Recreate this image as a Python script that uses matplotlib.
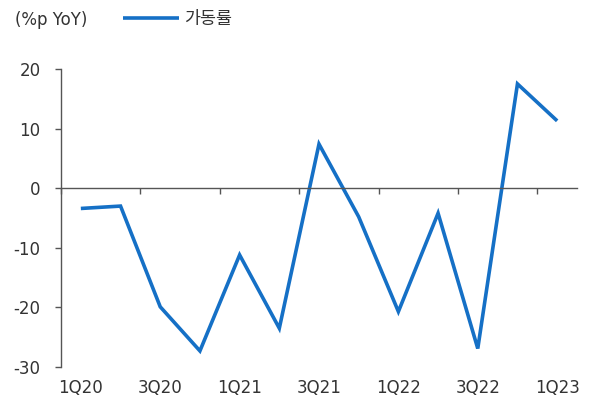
import matplotlib
matplotlib.use("Agg")
import matplotlib.pyplot as plt
import numpy as np

quarters = ["1Q20", "2Q20", "3Q20", "4Q20", "1Q21", "2Q21", "3Q21",
            "4Q21", "1Q22", "2Q22", "3Q22", "4Q22", "1Q23"]
utilization = [-3.4, -3.0, -19.9, -27.3, -11.2, -23.5, 7.4,
               -4.8, -20.7, -4.2, -26.9, 17.5, 11.3]
series_name = "가동률"
unit_label = "(%p YoY)"
y_ticks = [-30, -20, -10, 0, 10, 20]

plt.rcParams['font.family'] = ['DejaVu Sans', 'Noto Sans CJK KR']
plt.rcParams['axes.unicode_minus'] = False
text_color = "#333333"
axis_color = "#555555"
line_color = "#1570c6"
fs = 12

fig = plt.figure(figsize=(5.92, 3.97), dpi=100)
ax = fig.add_axes([61 / 592, 30 / 397, 516 / 592, 298 / 397])

x = np.arange(len(quarters))
ax.plot(x, utilization, color=line_color, lw=2.6, solid_joinstyle='miter',
        solid_capstyle='butt', label=series_name)

ax.set_xlim(-0.5, len(quarters) - 0.5)
ax.set_ylim(y_ticks[0], y_ticks[-1])
ax.set_yticks(y_ticks)

# category axis drawn through zero, ticks between every two quarters
for side in ['top', 'right']:
    ax.spines[side].set_visible(False)
ax.spines['bottom'].set_position(('data', 0))
ax.spines['bottom'].set_color(axis_color)
ax.spines['bottom'].set_linewidth(1.0)
ax.spines['left'].set_color(axis_color)
ax.spines['left'].set_linewidth(1.0)
ax.set_xticks(np.arange(-0.5, len(quarters), 2))
ax.tick_params(axis='x', direction='out', length=4, width=1, color=axis_color,
               labelbottom=False)
ax.tick_params(axis='y', direction='out', length=4.3, width=1, color=axis_color,
               labelsize=fs, labelcolor=text_color, pad=10.5)

# quarter labels along the bottom of the plot area
sec = ax.secondary_xaxis(0)
sec.spines['bottom'].set_visible(False)
sec.set_xticks(x[::2])
sec.set_xticklabels(quarters[::2])
sec.tick_params(length=0, labelsize=fs, labelcolor=text_color, pad=8.5)

fig.text(15 / 592, 1 - 20 / 397, unit_label, fontsize=fs, color=text_color,
         ha='left', va='center')
leg = ax.legend(loc='center left', bbox_to_anchor=(123 / 592, 1 - 19 / 397),
                bbox_transform=fig.transFigure, frameon=False,
                prop={'family': ['Noto Sans CJK KR'], 'size': 12.5},
                labelcolor=text_color, handlelength=3.2, handletextpad=0.3,
                borderpad=0, borderaxespad=0)

fig.savefig("out.png", dpi=100)
